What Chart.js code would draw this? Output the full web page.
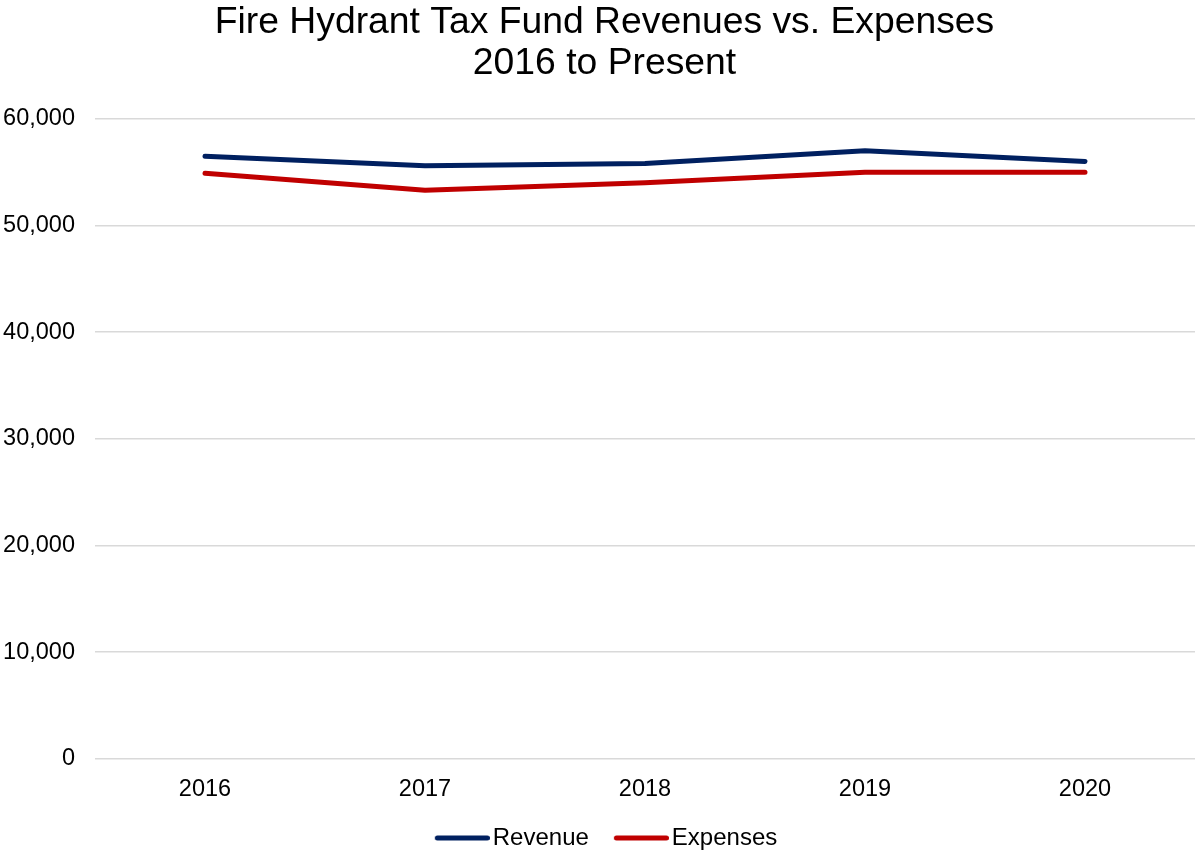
<!DOCTYPE html>
<html>
<head>
<meta charset="utf-8">
<script src="https://cdn.jsdelivr.net/npm/chart.js@4/dist/chart.umd.min.js"></script>
<style>
html,body{margin:0;padding:0;background:#fff;}
#wrap{width:1195px;height:850px;}
</style>
</head>
<body>
<div id="wrap"><canvas id="c" width="1195" height="850"></canvas></div>
<script>
const years = ["2016", "2017", "2018", "2019", "2020"];
const revenue = [56500, 55600, 55800, 57000, 56000];
const expenses = [54900, 53300, 54000, 55000, 55000];
const yTicks = [0, 10000, 20000, 30000, 40000, 50000, 60000];
const titleLines = ["Fire Hydrant Tax Fund Revenues vs. Expenses", "2016 to Present"];

const FONT = "'Liberation Sans', Arial, sans-serif";
const LEG_BOX = 66;

function legendLine(color) {
  const W = LEG_BOX + 18;
  const cv = document.createElement('canvas');
  cv.width = W; cv.height = 8;
  const g = cv.getContext('2d');
  g.strokeStyle = color; g.lineWidth = 5; g.lineCap = 'round';
  g.beginPath(); g.moveTo(W - 52.5, 4); g.lineTo(W - 2.5, 4); g.stroke();
  return cv;
}

const shiftPlugin = {
  id: 'shiftBlocks',
  afterLayout(chart) {
    if (chart.titleBlock) chart.titleBlock.left += 14;
    if (chart.legend) chart.legend.left -= 3;
  }
};

new Chart(document.getElementById('c'), {
  type: 'line',
  data: {
    labels: years,
    datasets: [
      {label: 'Revenue', data: revenue, borderColor: '#002060', backgroundColor: '#002060', borderWidth: 5, pointRadius: 0, pointStyle: legendLine('#002060'), tension: 0, borderCapStyle: 'round', borderJoinStyle: 'round'},
      {label: 'Expenses', data: expenses, borderColor: '#C00000', backgroundColor: '#C00000', borderWidth: 5, pointRadius: 0, pointStyle: legendLine('#C00000'), tension: 0, borderCapStyle: 'round', borderJoinStyle: 'round'}
    ]
  },
  plugins: [shiftPlugin],
  options: {
    responsive: false,
    animation: false,
    layout: {padding: {left: 0, right: 0, top: 2, bottom: -10}},
    plugins: {
      title: {display: true, text: titleLines, color: '#000', font: {family: FONT, size: 37.3, weight: 'normal', lineHeight: 1.11}, padding: {top: 0, bottom: 34}},
      legend: {position: 'bottom', labels: {color: '#000', font: {family: FONT, size: 24}, usePointStyle: true, pointStyleWidth: LEG_BOX, boxHeight: 8, padding: 5}},
      tooltip: {enabled: false}
    },
    scales: {
      x: {
        offset: true,
        grid: {display: false, drawTicks: false},
        border: {display: false},
        ticks: {color: '#000', font: {family: FONT, size: 23.5}, padding: 17}
      },
      y: {
        min: 0, max: 60000,
        afterBuildTicks: (s) => { s.ticks = yTicks.map(v => ({value: v})); },
        afterFit: (s) => { s.width = 95; },
        grid: {color: '#d9d9d9', lineWidth: 1.5, drawTicks: false},
        border: {display: false},
        ticks: {color: '#000', font: {family: FONT, size: 23.5}, padding: 20,
          callback: (v) => v.toLocaleString('en-US')}
      }
    }
  }
});
</script>
</body>
</html>
